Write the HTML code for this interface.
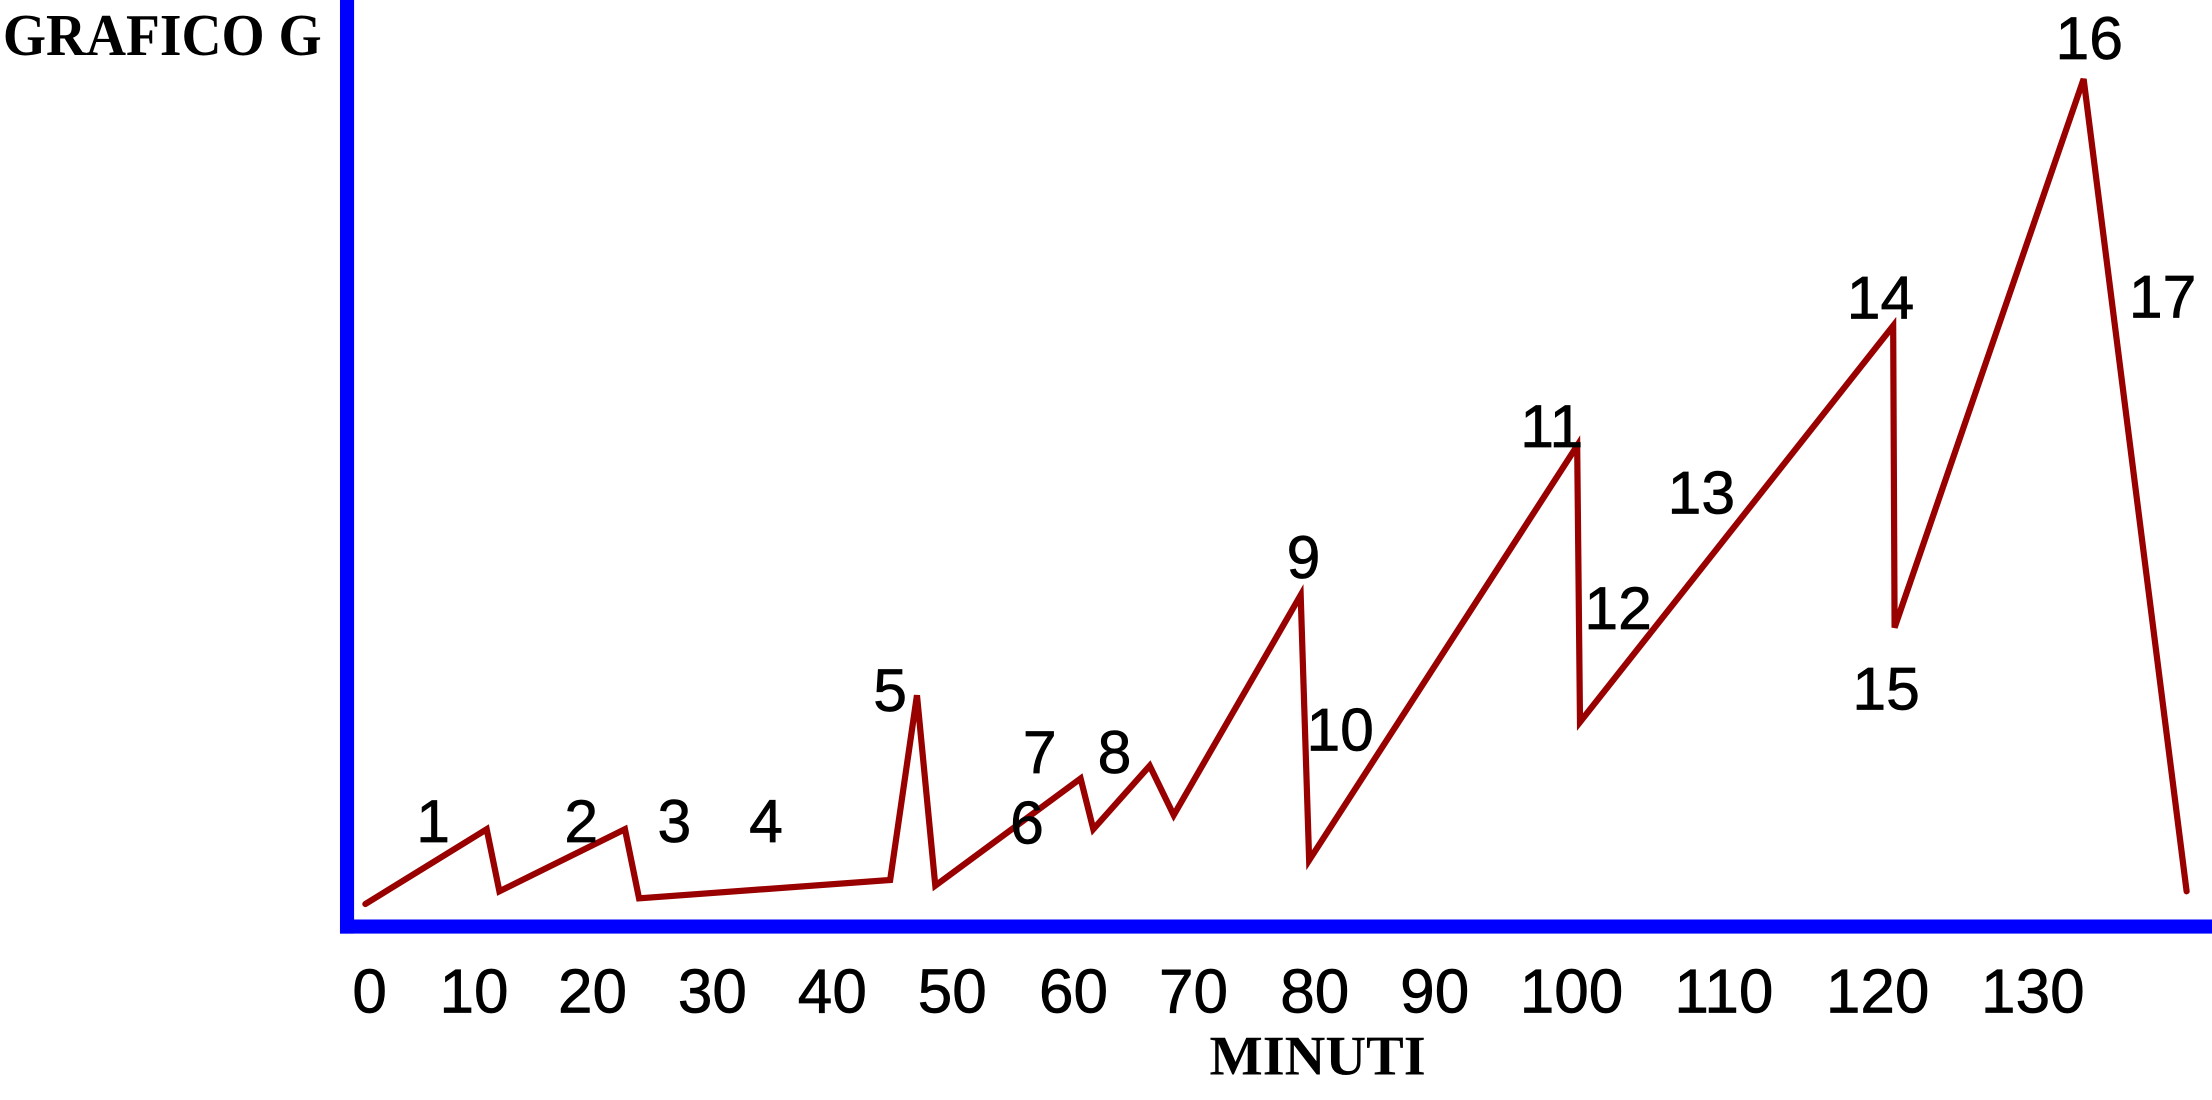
<!DOCTYPE html>
<html><head><meta charset="utf-8"><style>html,body{margin:0;padding:0;background:#fff;}svg{display:block}</style></head>
<body>
<svg width="2212" height="1100" viewBox="0 0 1568 780" preserveAspectRatio="none" xmlns="http://www.w3.org/2000/svg">
<rect width="1568" height="780" fill="#fff"/>
<text x="2" y="39" font-family="Liberation Serif, serif" font-weight="bold" font-size="42" textLength="226" lengthAdjust="spacingAndGlyphs" fill="#000">GRAFICO G</text>
<rect x="241" y="0" width="10" height="662" fill="#0000ff"/>
<rect x="241" y="652" width="1327" height="10" fill="#0000ff"/>
<polyline fill="none" stroke="#990000" stroke-width="4.4" stroke-linejoin="miter" stroke-linecap="round"
points="259,641 345,588 354,632 443,588 453,637 631,624 650,493 663,628 766,552 775,588 815,543 832,578 922,422 928,610 1118,316 1120,512 1342,231 1343,445 1477,56 1550,632"/>
<g font-family="Liberation Sans, sans-serif" font-size="43" fill="#000" text-anchor="middle" stroke="#000" stroke-width="0.5">
<text x="307" y="597">1</text><text x="412" y="597">2</text><text x="478" y="597">3</text><text x="543" y="597">4</text>
<text x="631" y="504">5</text><text x="728" y="598">6</text><text x="737" y="548">7</text><text x="790" y="548">8</text>
<text x="924" y="410">9</text><text x="950" y="532">10</text><text x="1100" y="317">11</text><text x="1147" y="446">12</text>
<text x="1206" y="364">13</text><text x="1333" y="226">14</text><text x="1337" y="503">15</text><text x="1481" y="42">16</text><text x="1533" y="225">17</text>
</g>
<g font-family="Liberation Sans, sans-serif" font-size="44" fill="#000" text-anchor="middle" stroke="#000" stroke-width="0.5">
<text x="262" y="718">0</text><text x="336" y="718">10</text><text x="420" y="718">20</text><text x="505" y="718">30</text>
<text x="590" y="718">40</text><text x="675" y="718">50</text><text x="761" y="718">60</text><text x="846" y="718">70</text>
<text x="932" y="718">80</text><text x="1017" y="718">90</text><text x="1114" y="718">100</text><text x="1222" y="718">110</text>
<text x="1331" y="718">120</text><text x="1441" y="718">130</text>
</g>
<text x="934" y="762" font-family="Liberation Serif, serif" font-weight="bold" font-size="40" text-anchor="middle" fill="#000">MINUTI</text>
</svg>
</body></html>
